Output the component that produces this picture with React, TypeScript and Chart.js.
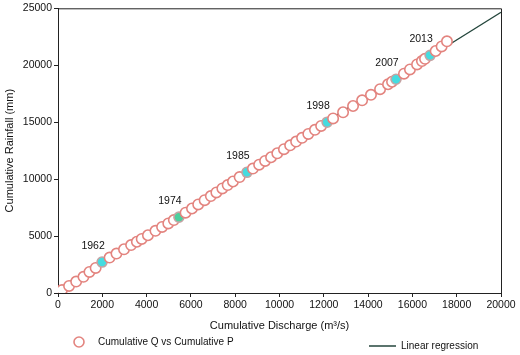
import React, { useEffect, useRef } from "react";
import { Chart, registerables } from "chart.js";

Chart.register(...registerables);

const years: number[] = [
  1956, 1957, 1958, 1959, 1960, 1961, 1962, 1963, 1964, 1965, 1966, 1967, 1968, 1969, 1970,
  1971, 1972, 1973, 1974, 1975, 1976, 1977, 1978, 1979, 1980, 1981, 1982, 1983, 1984, 1985,
  1986, 1987, 1988, 1989, 1990, 1991, 1992, 1993, 1994, 1995, 1996, 1997, 1998, 1999, 2000,
  2001, 2002, 2003, 2004, 2005, 2006, 2007, 2008, 2009, 2010, 2011, 2012, 2013, 2014, 2015, 2016,
];

const cumQ: number[] = [
  180, 500, 820, 1150, 1420, 1700, 1990, 2330, 2640, 2980, 3300, 3560, 3780, 4060, 4400,
  4700, 4980, 5230, 5460, 5760, 6050, 6330, 6620, 6900, 7150, 7420, 7660, 7900, 8200, 8530,
  8800, 9080, 9350, 9620, 9900, 10200, 10480, 10750, 11020, 11300, 11600, 11880, 12150, 12420, 12870,
  13320, 13730, 14130, 14540, 14900, 15080, 15260, 15620, 15890, 16210, 16430, 16570, 16800, 17050, 17320, 17560,
];

const cumP: number[] = [
  260, 620, 1000, 1420, 1850, 2200, 2720, 3110, 3460, 3840, 4210, 4500, 4750, 5070, 5460,
  5800, 6110, 6400, 6660, 7050, 7420, 7780, 8150, 8510, 8830, 9180, 9480, 9790, 10180, 10600,
  10930, 11270, 11600, 11920, 12270, 12630, 12970, 13300, 13630, 13970, 14330, 14670, 15000, 15330, 15870,
  16420, 16920, 17400, 17900, 18330, 18550, 18770, 19260, 19630, 20070, 20370, 20560, 20870, 21250, 21650, 22100,
];

const highlightYears: number[] = [1962, 1974, 1985, 1998, 2007, 2013];
const highlightColors: string[] = ["#45dce0", "#4ccf9e", "#45dce0", "#45dce0", "#45dce0", "#45dce0"];

const regX: number[] = [0, 20000];
const regY: number[] = [350, 24650];

const xTicks: number[] = [0, 2000, 4000, 6000, 8000, 10000, 12000, 14000, 16000, 18000, 20000];
const yTicks: number[] = [0, 5000, 10000, 15000, 20000, 25000];

const FONT = "'Liberation Sans', Arial, sans-serif";

export default function App() {
  const ref = useRef<HTMLCanvasElement | null>(null);

  useEffect(() => {
    if (!ref.current) return;

    const pointBg = years.map((y) => {
      const i = highlightYears.indexOf(y);
      return i >= 0 ? highlightColors[i] : "#ffffff";
    });
    const pointBorder = years.map((y) => (highlightYears.indexOf(y) >= 0 ? "#c4a4a4" : "#e3847f"));
    const pointRadius = years.map((y) => (highlightYears.indexOf(y) >= 0 ? 5 : 5.2));

    const extras = {
      id: "extras",
      afterDatasetsDraw(chart: any) {
        const ctx = chart.ctx;
        const a = chart.chartArea;
        ctx.save();
        ctx.strokeStyle = "#222";
        ctx.lineWidth = 1;
        ctx.beginPath();
        ctx.moveTo(a.left, a.top + 0.5);
        ctx.lineTo(a.right + 0.5, a.top + 0.5);
        ctx.lineTo(a.right + 0.5, a.bottom);
        ctx.stroke();
        const meta = chart.getDatasetMeta(0);
        ctx.fillStyle = "#111";
        ctx.font = `10.5px ${FONT}`;
        ctx.textAlign = "center";
        ctx.textBaseline = "middle";
        highlightYears.forEach((yr) => {
          const idx = years.indexOf(yr);
          const el = meta.data[idx];
          if (el) ctx.fillText(String(yr), el.x - 9, el.y - 16);
        });
        ctx.font = `11px ${FONT}`;
        ctx.fillStyle = "#111";
        ctx.textAlign = "center";
        ctx.fillText("Cumulative Discharge (m³/s)", (a.left + a.right) / 2, 326);
        ctx.save();
        ctx.translate(10, (a.top + a.bottom) / 2);
        ctx.rotate(-Math.PI / 2);
        ctx.fillText("Cumulative Rainfall (mm)", 0, 0);
        ctx.restore();
        ctx.beginPath();
        ctx.arc(79, 342, 5, 0, Math.PI * 2);
        ctx.fillStyle = "#fff";
        ctx.fill();
        ctx.lineWidth = 1.6;
        ctx.strokeStyle = "#e3847f";
        ctx.stroke();
        ctx.fillStyle = "#111";
        ctx.font = `10px ${FONT}`;
        ctx.textAlign = "left";
        ctx.fillText("Cumulative Q vs Cumulative P", 98, 342);
        ctx.beginPath();
        ctx.moveTo(369, 346);
        ctx.lineTo(396, 346);
        ctx.lineWidth = 1.5;
        ctx.strokeStyle = "#24463c";
        ctx.stroke();
        ctx.fillText("Linear regression", 401, 346);
        ctx.restore();
      },
    };

    const chart = new Chart(ref.current, {
      type: "scatter",
      data: {
        datasets: [
          {
            label: "Cumulative Q vs Cumulative P",
            data: cumQ.map((q, i) => ({ x: q, y: cumP[i] })),
            backgroundColor: pointBg,
            borderColor: pointBorder,
            pointRadius: pointRadius,
            borderWidth: 1.6,
            order: 1,
          } as any,
          {
            type: "line",
            label: "Linear regression",
            data: regX.map((x, i) => ({ x, y: regY[i] })),
            borderColor: "#24463c",
            borderWidth: 1.3,
            pointRadius: 0,
            showLine: true,
            fill: false,
            order: 2,
          } as any,
        ],
      },
      options: {
        responsive: false,
        animation: false,
        layout: { padding: { left: 0, right: 19, top: 8, bottom: 0 } },
        plugins: { legend: { display: false }, tooltip: { enabled: false } },
        scales: {
          x: {
            type: "linear",
            min: 0,
            max: 20000,
            afterFit: (s: any) => {
              s.height = 62;
            },
            afterBuildTicks: (s: any) => {
              s.ticks = xTicks.map((v) => ({ value: v }));
            },
            ticks: {
              color: "#111",
              font: { family: FONT, size: 10.5 },
              padding: 2,
              maxRotation: 0,
              autoSkip: false,
              callback: (v: any) => String(v),
            },
            grid: { drawOnChartArea: false, drawTicks: true, tickLength: 4, color: "#222" },
            border: { color: "#222", width: 1 },
          },
          y: {
            type: "linear",
            min: 0,
            max: 25000,
            afterFit: (s: any) => {
              s.width = 58;
            },
            afterBuildTicks: (s: any) => {
              s.ticks = yTicks.map((v) => ({ value: v }));
            },
            ticks: {
              color: "#111",
              font: { family: FONT, size: 10.5 },
              padding: 2,
              autoSkip: false,
              callback: (v: any) => String(v),
            },
            grid: { drawOnChartArea: false, drawTicks: true, tickLength: 4, color: "#222" },
            border: { color: "#222", width: 1 },
          },
        },
      },
      plugins: [extras],
    });
    return () => chart.destroy();
  }, []);

  return (
    <div style={{ position: "absolute", left: 0, top: 0, width: 520, height: 355, background: "#fff" }}>
      <canvas ref={ref} width={520} height={355} />
    </div>
  );
}
